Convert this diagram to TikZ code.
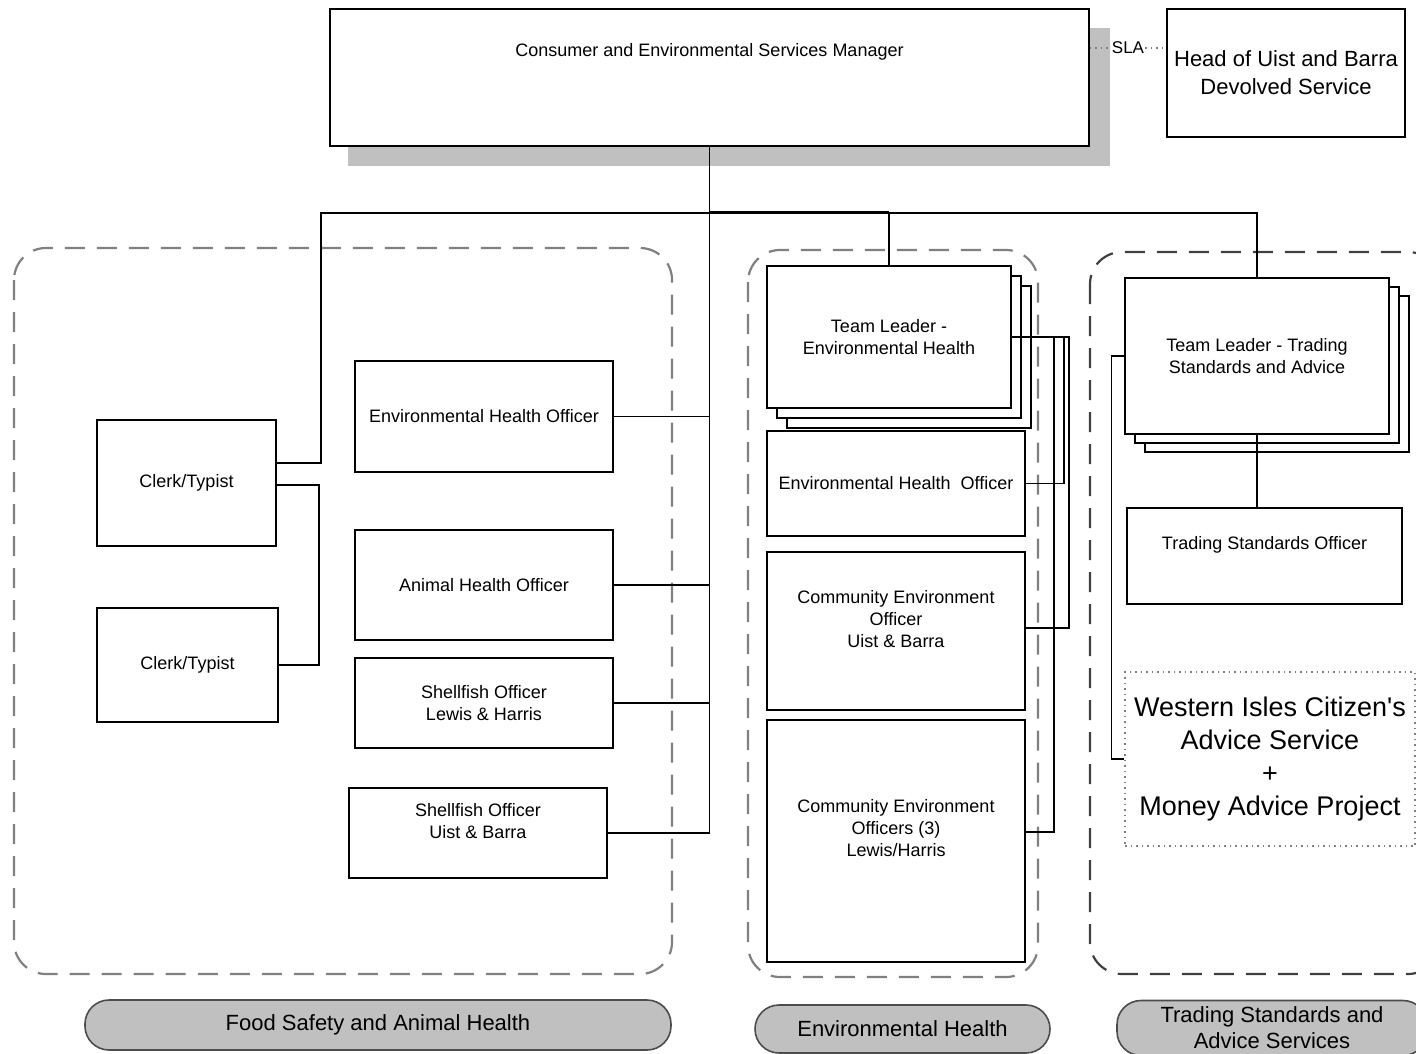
\documentclass[tikz,border=0pt]{standalone}
\usepackage{fontspec}
\setmainfont{Liberation Sans}
\newcommand{\lblfont}{\fontsize{18}{22}\selectfont}
\newcommand{\lgfont}{\fontsize{22}{28}\selectfont}
\newcommand{\wifont}{\fontsize{27}{33}\selectfont}
\newcommand{\pillfont}{\fontsize{22}{26}\selectfont}
\definecolor{shadowgray}{HTML}{C0C0C0}
\definecolor{dashgray}{HTML}{808080}

\begin{document}
\begin{tikzpicture}[x=1pt,y=-1pt]
        \tikzset{
        post/.style={draw, line width=1.8pt, fill=white, inner sep=0pt, align=center, font=\lblfont},
        lbl/.style={align=center, font=\lblfont},
        team/.style={draw=dashgray, line width=2.2pt, dash pattern=on 20pt off 12pt, rounded corners=32pt},
        pill/.style={draw=black!70, line width=1.6pt, fill=shadowgray, rounded corners=24pt, align=center, font=\pillfont},
        link/.style={line width=1.8pt},
        sla/.style={dashgray, line width=1.2pt, dash pattern=on 1.5pt off 4pt},
        }
        \useasboundingbox (0,0) rectangle (1416,1053);

        % teams
        \draw[team] (14,248) rectangle (672,974);
        \draw[team] (748,250) rectangle (1038,977);
        \begin{scope}
        \clip (0,0) rectangle (1416,1053);
        \draw[team, draw=black!75] (1090,252) rectangle (1440,974);
        \end{scope}

        % manager
        \fill[shadowgray] (348,28) rectangle (1110,166);
        \node[post, minimum width=759pt, minimum height=137pt,
              label={[lbl, yshift=26pt]center:Consumer and Environmental Services Manager}] (mgr) at (709.5,77.5) {};
        \node[post, font=\lgfont, minimum width=238pt, minimum height=128pt] (head) at (1286,73) {Head of Uist and Barra\\Devolved Service};
        \node[font=\fontsize{17}{20}\selectfont, inner sep=1pt] (sla) at (1128,48) {SLA};

        % food safety and animal health
        \node[post, minimum width=179pt, minimum height=126pt] (clerk1) at (186.5,483) {Clerk/Typist};
        \node[post, minimum width=181pt, minimum height=114pt] (clerk2) at (187.5,665) {Clerk/Typist};
        \node[post, minimum width=258pt, minimum height=111pt] (eho) at (484,416.5) {Environmental Health Officer};
        \node[post, minimum width=258pt, minimum height=110pt] (aho) at (484,585) {Animal Health Officer};
        \node[post, minimum width=258pt, minimum height=90pt] (sflh) at (484,703) {Shellfish Officer\\Lewis \& Harris};
        \node[post, minimum width=258pt, minimum height=90pt,
              label={[lbl, yshift=12pt]center:Shellfish Officer\\Uist \& Barra}] (sfub) at (478,833) {};

        % environmental health
        \node[post, minimum width=244pt, minimum height=142pt] (tlehC) at (909,357) {};
        \node[post, minimum width=244pt, minimum height=142pt] (tlehB) at (899,347) {};
        \node[post, minimum width=244pt, minimum height=142pt] (tleh) at (889,337) {Team Leader -\\Environmental Health};
        \node[post, minimum width=258pt, minimum height=105pt] (eho2) at (896,483.5) {Environmental Health\ \ Officer};
        \node[post, minimum width=258pt, minimum height=158pt,
              label={[lbl, yshift=12pt]center:Community Environment\\Officer\\Uist \& Barra}] (ceoub) at (896,631) {};
        \node[post, minimum width=258pt, minimum height=242pt,
              label={[lbl, yshift=13pt]center:Community Environment\\Officers (3)\\Lewis/Harris}] (ceolh) at (896,841) {};

        % trading standards
        \node[post, minimum width=264pt, minimum height=156pt] (tltsC) at (1277,374) {};
        \node[post, minimum width=264pt, minimum height=156pt] (tltsB) at (1267,365) {};
        \node[post, minimum width=264pt, minimum height=156pt] (tlts) at (1257,356) {Team Leader - Trading\\Standards and Advice};
        \node[post, minimum width=275pt, minimum height=96pt,
              label={[lbl, yshift=11pt]center:Trading Standards Officer}] (tso) at (1264.5,556) {};
        \node[draw=dashgray, line width=1.2pt, dash pattern=on 1.5pt off 4pt, align=center, font=\wifont,
              minimum width=290pt, minimum height=174pt, inner sep=0pt] (wicas) at (1270,759)
              {Western Isles Citizen\textquotesingle s\\Advice Service\\+\\Money Advice Project};

        % connectors
        \coordinate (jn) at (709.5,213);
        \draw[sla] (mgr.east |- sla) -- (sla.west);
        \draw[sla] (sla.east) -- (head.west |- sla);
        \draw[link] (mgr.south) -- (jn);
        \draw[link] (jn) -| ([xshift=44pt,yshift=20pt]clerk1.east) -- ([yshift=20pt]clerk1.east);
        \draw[link] ([yshift=-2pt]clerk1.east) -| ([xshift=40pt]clerk2.east) -- (clerk2.east);
        \draw[link] (jn) -- (jn |- sfub.east);
        \foreach \n in {eho,aho,sflh,sfub}
            \draw[link] (\n.east) -- (\n.east -| jn);
        \draw[link] (jn) -| (tleh.north);
        \draw[link] ([yshift=1.5pt]jn) -- ([yshift=1.5pt]jn -| tleh.north);
        \draw[link] (jn) -| (tlts.north);
        \draw[link] (tleh.east) -| ([xshift=43pt,yshift=3pt]ceoub.east) -- ([yshift=3pt]ceoub.east);
        \draw[link] (tleh.east) -| ([xshift=38pt]eho2.east) -- (eho2.east);
        \draw[link] (tleh.east) -| ([xshift=28pt,yshift=9pt]ceolh.east) -- ([yshift=9pt]ceolh.east);
        \draw[link] (tlts.south) -- (tlts.south |- tso.north);
        \draw[link] (tlts.west) -| ([xshift=-13pt]wicas.west) -- (wicas.west);

        % team names
        \node[pill, minimum width=586pt, minimum height=50pt] (fsah) at (378,1025) {Food Safety and Animal Health};
        \node[pill, minimum width=295pt, minimum height=48pt] (ehp) at (902.5,1029) {Environmental Health};
        \begin{scope}
        \clip (0,0) rectangle (1416,1053);
        \node[pill, minimum width=310pt, minimum height=55pt] (tsp) at (1272,1028) {Trading Standards and\\Advice Services};
        \end{scope}
\end{tikzpicture}
\end{document}
